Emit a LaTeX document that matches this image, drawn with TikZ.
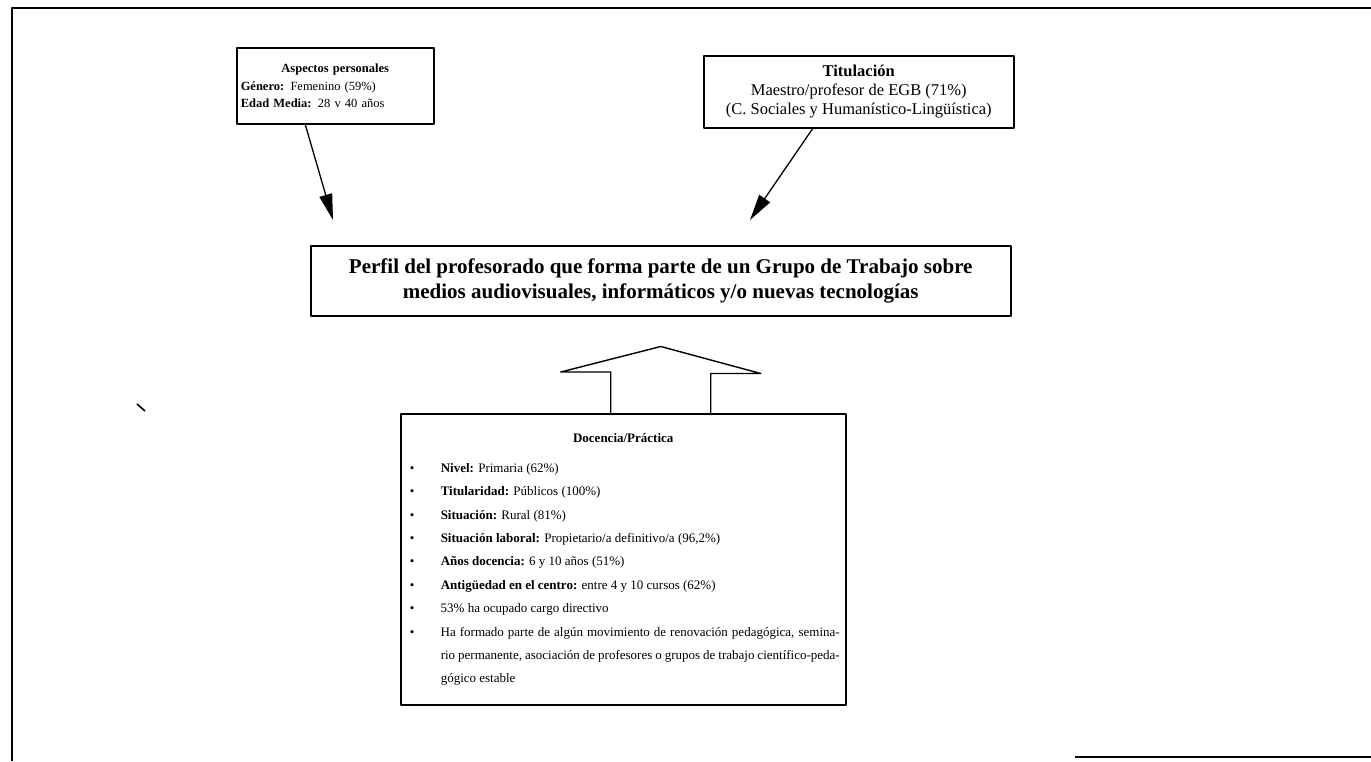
\documentclass[tikz,border=0pt]{standalone}
\usepackage{fontspec}
\setmainfont{Liberation Serif}
\usetikzlibrary{positioning, arrows.meta}

\newcommand{\punto}[1]{\par\hangindent=34pt\noindent\makebox[34pt][l]{\hspace{3pt}\textbullet}#1}

\begin{document}
\begin{tikzpicture}[x=1pt, y=-1pt, line join=round,
    caja/.style={draw, line width=1.5pt, inner sep=4pt},
    flecha/.style={line width=1.3pt, -{Triangle[length=26pt, width=13pt]}}]
    \useasboundingbox (0,0) rectangle (1371,761);
    % marco de la figura
    \draw[line width=1.2pt] (1371,8) -- (12,8) -- (12,761);
    \draw[line width=1.2pt] (1075,757) -- (1371,757);
    \draw[line width=1.6pt] (137,404) -- (145,411);

    \node[caja, anchor=north west, minimum width=197pt, minimum height=76pt,
          text width=189pt, align=left, font=\fontsize{12.5}{17.5}\selectfont]
          (personal) at (236,47)
          {\makebox[189pt]{\textbf{Aspectos personales}}\\
           \textbf{Género:} Femenino (59\%)\\
           \textbf{Edad Media:} 28 v 40 años};
    \node[caja, anchor=north west, minimum width=310pt, minimum height=72pt,
          align=center, font=\fontsize{16.5}{19}\selectfont]
          (titulo) at (703,55)
          {\textbf{Titulación}\\
           Maestro/profesor de EGB (71\%)\\
           (C. Sociales y Humanístico-Lingüística)};
    \node[caja, anchor=north west, minimum width=700pt, minimum height=70pt,
          align=center, font=\bfseries\fontsize{21}{25}\selectfont]
          (perfil) at (310,245)
          {Perfil del profesorado que forma parte de un Grupo de Trabajo sobre\\
           medios audiovisuales, informáticos y/o nuevas tecnologías};
    \node[caja, anchor=north west, inner xsep=6pt, inner ysep=19.5pt, text width=433pt,
          align=justify, font=\fontsize{13}{23.4}\selectfont]
          (docencia) at (400,413)
          {\makebox[433pt]{\textbf{Docencia/Práctica}}\par\vspace{6.6pt}
           \punto{\textbf{Nivel:} Primaria (62\%)}
           \punto{\textbf{Titularidad:} Públicos (100\%)}
           \punto{\textbf{Situación:} Rural (81\%)}
           \punto{\textbf{Situación laboral:} Propietario/a definitivo/a (96,2\%)}
           \punto{\textbf{Años docencia:} 6 y 10 años (51\%)}
           \punto{\textbf{Antigüedad en el centro:} entre 4 y 10 cursos (62\%)}
           \punto{53\% ha ocupado cargo directivo}
           \punto{Ha formado parte de algún movimiento de renovación pedagógica, \mbox{semina-}\linebreak
                  rio permanente, asociación de profesores o grupos de trabajo \mbox{científico-peda-}\linebreak
                  gógico estable}\par};

    \coordinate (punta1) at (333,220);
    \coordinate (punta2) at (750,220);
    \draw[flecha] ([xshift=-30pt]personal.south) -- (punta1);
    \draw[flecha] ([xshift=-46pt]titulo.south) -- (punta2);

    % flecha hueca
    \draw[line width=1.4pt]
        ([xshift=-50pt]perfil.south |- docencia.north) -- ++(0,-41) -- ++(-50,0)
        -- ([yshift=-30pt]perfil.south) -- ++(100,27) -- ++(-50,0)
        -- ([xshift=50pt]perfil.south |- docencia.north);
\end{tikzpicture}
\end{document}
